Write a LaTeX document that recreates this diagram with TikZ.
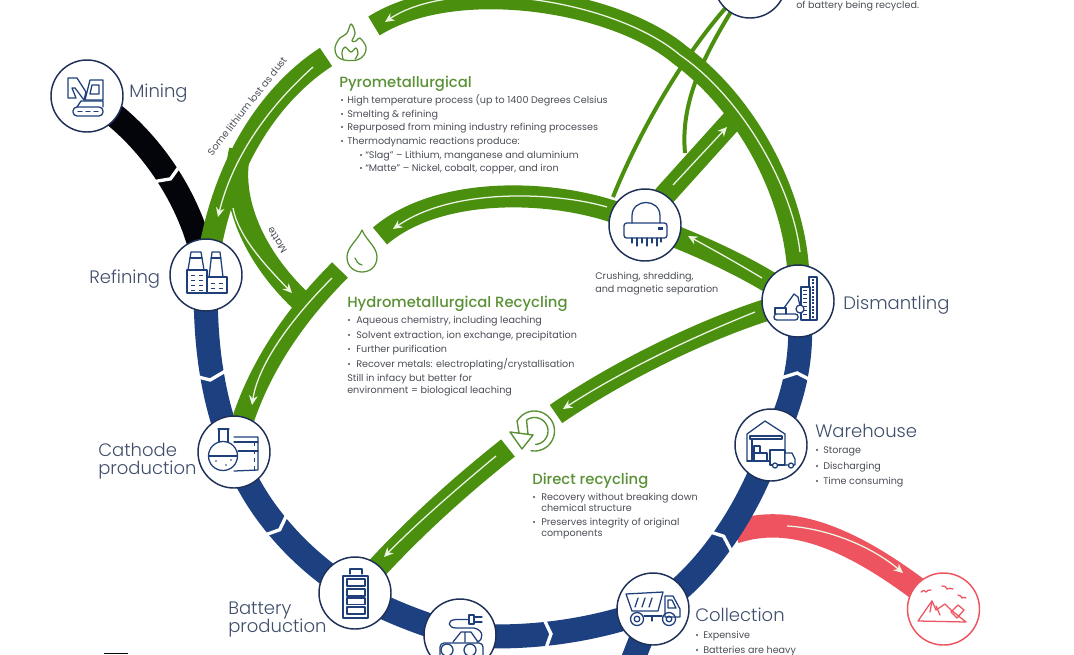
\documentclass[tikz,border=0pt]{standalone}
\usepackage{fontspec}
\setmainfont{Poppins}[UprightFont=* Light,BoldFont=* Medium]
\newfontfamily\bodyf{Poppins}
\usetikzlibrary{arrows.meta}
\definecolor{gband}{HTML}{4A8F0E}
\definecolor{gtext}{HTML}{5B9136}
\definecolor{bband}{HTML}{1D4180}
\definecolor{navy}{HTML}{1F3058}
\definecolor{ink}{HTML}{1E3F7A}
\definecolor{rband}{HTML}{EE5360}
\definecolor{lbl}{HTML}{3F4E6A}
\definecolor{body}{HTML}{4A4E56}
\definecolor{pale}{HTML}{EDF5E4}
\definecolor{blk}{HTML}{04050A}
\pgfdeclarelayer{bg}\pgfsetlayers{bg,main}
\tikzset{
 stage/.style={circle,draw=navy,fill=white,minimum size=54pt,line width=1.1pt,inner sep=0pt},
 stagered/.style={stage,draw=rband},
 blueband/.style={draw=bband,line width=18pt},
 blackband/.style={draw=blk,line width=18pt},
 greenband/.style={draw=gband,line width=16.5pt},
 thinband/.style={draw=gband,line width=3pt},
 redband/.style={draw=rband,line width=17.5pt},
 flow/.style={draw=pale,line width=0.95pt,-{Stealth[length=7pt,width=6.5pt]}},
 iconl/.style={draw=ink,line width=0.95pt,line join=round,line cap=round},
 iconi/.style={draw=ink,line width=0.6pt},
 icong/.style={draw=gtext,line width=0.95pt,line join=round,line cap=round},
 iconr/.style={draw=rband,line width=0.95pt,line join=round,line cap=round},
 lab/.style={text=lbl,anchor=base west,inner sep=0pt,font=\fontsize{13.5}{16}\selectfont},
 head/.style={text=gtext,anchor=base west,inner sep=0pt,font=\fontsize{11.1}{13}\bfseries\selectfont},
 txt/.style={text=body,anchor=base west,inner sep=0pt,font=\bodyf\fontsize{7.2}{8}\selectfont},
 captxt/.style={text=body,anchor=center,inner sep=0pt,font=\bodyf\fontsize{7.3}{8}\selectfont},
 chevmark/.pic={\draw[white,line width=2.5pt,miter limit=10] (-6,-17) -- (1,0) -- (-6,17);}
}
\newcommand\bl[5]{\fill[body] (#2,#4) circle (1.1);\node[txt] (#1) at (#3,#4+3) {#5};}
\begin{document}
\begin{tikzpicture}[x=0.75pt,y=-0.75pt]
\useasboundingbox (0,0) rectangle (1074,654);
\clip (0,0) rectangle (1074,654);
% stages
\node[stage] (min) at (87,96) {};
\node[stage] (ref) at (206,275) {};
\node[stage] (cat) at (234,452) {};
\node[stage] (bat) at (355,593) {};
\node[stage] (ev) at (460,635) {};
\node[stage] (col) at (653,609) {};
\node[stage] (war) at (771,445) {};
\node[stage] (dis) at (798,301) {};
\node[stage] (shr) at (645,225) {};
\node[stage] (top) at (750,-18) {};
\node[stagered] (lan) at (943.5,609) {};
\coordinate (pyroA) at (374,26);
\coordinate (pyroB) at (326,57);
\coordinate (hydA) at (380,236);
\coordinate (hydB) at (340,270);
\coordinate (dirA) at (556,414);
\coordinate (dirB) at (508,448);
\coordinate (matA) at (240,150);
\coordinate (matB) at (302,302);
\coordinate (tapA) at (613,197);
\coordinate (tapB) at (685,153);
\coordinate (offS) at (735,532);
\coordinate (offB) at (632,662);
\coordinate (junc) at (738,114);
\coordinate (mid) at (680,55);
\begin{pgfonlayer}{bg}
\fill[white] (0,0) rectangle (1074,654);
\draw[redband] (offS) .. controls (800,510) and (870,550) .. (lan.center);
\draw[blackband] (min.center) .. controls (145,130) and (195,200) .. (ref.center);
\draw[blueband] (ref.center) .. controls (204,340) and (212,400) .. (cat.center);
\draw[blueband] (cat.center) .. controls (254,508) and (300,560) .. (bat.center);
\draw[blueband] (bat.center) .. controls (390,612) and (425,625) .. (ev.center);
\draw[blueband] (ev.center) .. controls (525,640) and (590,632) .. (col.center);
\draw[blueband] (col.center) .. controls (703,578) and (748,513) .. (war.center);
\draw[blueband] (war.center) .. controls (795,400) and (805,350) .. (dis.center);
\draw[blueband] (col.center) -- (offB);
\pic[rotate=-58] at (170,178) {chevmark};
\pic[rotate=-82] at (210,379) {chevmark};
\pic[rotate=-48] at (279,529) {chevmark};
\pic[rotate=3] at (550,634) {chevmark};
\pic[rotate=50] at (723,537) {chevmark};
\pic[rotate=85] at (797,374) {chevmark};
\pic[rotate=62] at (636,660) {chevmark};
\draw[thinband] (tapA) .. controls (640,130) and (690,40) .. (top.center);
\draw[thinband] (tapB) .. controls (680,100) and (705,50) .. (top.center);
\draw[greenband] (dis.center) .. controls (805,215) and (755,110) .. (mid) .. controls (615,0) and (455,-25) .. (pyroA);
\draw[greenband] (pyroB) .. controls (275,90) and (220,160) .. (ref.center);
\draw[greenband] (matA) .. controls (228,200) and (255,258) .. (matB);
\draw[greenband] (shr.center) .. controls (580,190) and (445,180) .. (hydA);
\draw[greenband] (hydB) .. controls (290,320) and (250,380) .. (cat.center);
\draw[greenband] (dis.center) .. controls (755,270) and (700,245) .. (shr.center);
\draw[greenband] (shr.center) -- (665,195) -- (junc);
\draw[greenband] (dis.center) .. controls (720,320) and (620,370) .. (dirA);
\draw[greenband] (dirB) .. controls (455,490) and (400,540) .. (bat.center);
% flow lines
\draw[flow] (800,252) .. controls (793,190) and (745,100) .. (mid) .. controls (615,0) and (455,-25) .. (385,22);
\draw[flow] (313,67) .. controls (265,110) and (232,160) .. (218,217);
\draw[flow] (233,208) .. controls (238,235) and (262,262) .. (292,293);
\draw[flow] (607,207) .. controls (560,193) and (455,186) .. (393,229);
\draw[flow] (332,278) .. controls (290,320) and (258,365) .. (252,405);
\draw[flow] (762,278) .. controls (737,263) and (712,249) .. (688,236);
\draw[flow] (673,185) -- (727,127);
\draw[flow] (755,312) .. controls (690,338) and (620,372) .. (563,409);
\draw[flow] (496,456) .. controls (455,490) and (415,525) .. (384,557);
\draw[flow] (787,526) .. controls (825,528) and (870,545) .. (903,573);
\end{pgfonlayer}
% Mining icon
\draw[iconl] (85,100)--(90,80)--(103,80)--(103,100)--cycle;
\draw[iconl] (92,85)--(99,85)--(99,94)--(90,94)--cycle;
\draw[iconl] (68,98)--(68,78)--(77,78)--(86,92)--(84,100)--(75,88)--(72,88)--(76,98)--cycle;
\draw[iconl,rounded corners=3] (73,107) rectangle (103,116);
\draw[iconl] (77,107)--(81,101)--(103,101)--(103,107);
\draw[iconl,dashed] (78,111.5)--(99,111.5);
% Refining icon
\draw[iconl] (188,270)--(191,252)--(201,252)--(204,270);
\draw[iconl] (190,258)--(202,258);
\draw[iconl] (209,277)--(212,252)--(220,252)--(223,277);
\draw[iconl] (211,258)--(221,258);
\draw[iconl] (187,293)--(187,270)--(207,270)--(207,277)--(227,277)--(227,293)--cycle;
\draw[iconl] (207,277)--(207,293);
\draw[iconi,dashed] (191,275)--(204,275) (191,280)--(204,280) (191,285)--(204,285) (191,290)--(204,290) (211,283)--(224,283) (211,288)--(224,288);
% Cathode icon
\draw[iconl] (218,429)--(229,429) (219,429)--(219,442) (228,429)--(228,442);
\draw[iconl] (223,456) circle (14.5);
\draw[iconl] (209,456)--(237,456);
\draw[iconl] (234,437)--(258,437)--(258,470)--(234,471);
\draw[iconl] (238,451)--(258,451) (234,442)--(258,442);
\draw[iconi,dashed] (254,442)--(254,470);
\fill[ink] (216,461) circle (0.8) (226,465) circle (0.8) (231,460) circle (0.8);
% Battery icon
\draw[iconl] (343,576) rectangle (368,618);
\draw[iconl] (350,574)--(350,569)--(362,569)--(362,574);
\draw[iconl] (347,579) rectangle (365,586) (347,589) rectangle (365,596) (347,598) rectangle (365,604.5) (347,607) rectangle (365,614);
% EV icon
\draw[iconl] (469,615) rectangle (474,624);
\draw[iconl] (474,617)--(482,617) (474,622)--(482,622);
\draw[iconl] (469,619.5)--(456,619.5) .. controls (446,620) and (448,628) .. (456,628) -- (474,628) .. controls (484,630) and (484,640) .. (477,642);
\draw[iconl] (453,642)--(461,632)--(471,632)--(478,642) (465,632)--(465,642);
\draw[iconl,rounded corners=3] (440,656)--(440,643)--(483,643)--(483,656);
\draw[iconl] (447,650) circle (6) (470,650) circle (6);
% Collection icon
\draw[iconl] (626,594)--(663,592)--(658,611)--(632,611)--cycle;
\draw[iconl] (638,598)--(635,607) (645,598)--(642,607) (652,598)--(649,607);
\draw[iconl] (665,596)--(673,596)--(680,609)--(680,617)--(665,617)--cycle;
\draw[iconl] (668,600)--(672,600)--(676,608)--(668,608)--cycle;
\draw[iconl] (637,619) circle (6.5) (637,619) circle (2.8) (669,619) circle (6.5) (669,619) circle (2.8);
\draw[iconl] (644,616)--(662,616) (652,616)--(652,621);
% Warehouse icon
\draw[iconl] (747,461)--(747,434)--(765,421)--(785,434)--(785,449);
\draw[iconl] (750,436) rectangle (782,439);
\draw[iconl] (752,439)--(752,461) (747,461)--(770,461);
\draw[iconl] (754,446) rectangle (760,453) (754,453) rectangle (767,461);
\draw[iconl,fill=white] (770,450) rectangle (785,465);
\draw[iconl,fill=white] (785,453)--(792,453)--(795,459)--(795,465)--(785,465)--cycle;
\draw[iconl,fill=white] (775,465.5) circle (2.5) (791,465.5) circle (2.5);
% Dismantling icon
\draw[iconl] (809,277) rectangle (817,320);
\draw[iconl,fill=white] (801,287) rectangle (810,320);
\draw[iconi,dashed] (803,290)--(808,290) (803,294)--(808,294) (803,298)--(808,298) (803,302)--(808,302) (803,306)--(808,306) (803,310)--(808,310) (803,314)--(808,314);
\draw[ink,line width=2pt,dash pattern=on 1.5pt off 1pt] (813,279)--(813,318);
\draw[iconl,rounded corners=2] (774,314) rectangle (798,320);
\draw[iconl] (775,314)--(775,308)--(786,308)--(786,314);
\draw[iconl] (784,308)--(794,294)--(798,297)--(800,306);
\draw[iconl,fill=white] (800,309) circle (4);
% Shredder icon
\draw[iconl] (632,223)--(632,216) .. controls (632,198) and (660,198) .. (660,216) -- (660,223);
\draw[iconl,rounded corners=2] (624,223) rectangle (667,238);
\fill[ink] (658,226.5) rectangle (663,229.5);
\draw[iconl] (632,238)--(632,243) (637,238)--(637,246) (642,238)--(642,243) (647,238)--(647,246) (652,238)--(652,243) (657,238)--(657,246) (661,238)--(661,242);
% Landfill icon
\draw[iconr] (918,621)--(927,608)--(932,601)--(936,610)--(945,604)--(951,610)--(966,622)--cycle;
\draw[iconr] (932,601)--(930,612) (936,606)--(940,615);
\draw[iconr] (958,605)--(964,610)--(957,618)--(951,612)--cycle;
\draw[iconr] (921,592) .. controls (924,590) .. (926,592) .. controls (928,590) .. (931,590);
\draw[iconr] (942,586) .. controls (945,586) .. (947,589) .. controls (950,588) .. (953,589);
\draw[iconr] (958,595) .. controls (961,596) .. (962,598) .. controls (964,597) .. (966,598);
% Flame
\draw[icong] plot[smooth cycle,tension=0.6] coordinates {(344,60) (337,56) (335,48) (339,39) (347,33) (351,24) (355,33) (352,41) (356,41) (360,38) (366,47) (364,55) (357,60)};
\draw[icong] plot[smooth,tension=0.6] coordinates {(343,59) (342,52) (345,47) (351,52) (356,48) (358,54) (355,59)};
% Droplet
\draw[icong] (362,230) .. controls (358,240) and (347,247) .. (347,257) .. controls (347,277) and (377,277) .. (377,257) .. controls (377,247) and (366,240) .. (362,230) -- cycle;
\draw[icong] (355,258) .. controls (356,261) and (358,264) .. (362,265);
% Recycling
\draw[icong,line width=1.05pt] plot[domain=150:-100,samples=40] ({534.5+20*cos(\x)},{431-20*sin(\x)});
\draw[icong,line width=1.05pt] plot[domain=125:-85,samples=40] ({534.5+13.5*cos(\x)},{431-13.5*sin(\x)});
\draw[icong,line width=1.05pt] (517,421)--(519,433) (526.5,420)--(528,434) (510,432)--(533,435)--(522,449)--cycle;
% Labels
\node[lab] (lMin) at (129,97) {Mining};
\node[lab] (lRef) at (89,283) {Refining};
\node[lab] (lCat) at (98,456) {Cathode};
\node[lab] (lCat2) at (98,474) {production};
\node[lab] (lBat) at (228,614) {Battery};
\node[lab] (lBat2) at (228,632) {production};
\node[lab] (lDis) at (843,309) {Dismantling};
\node[lab] (lWar) at (815,437) {Warehouse};
\node[lab] (lCol) at (695,621) {Collection};
\node[head] (hPyr) at (339,87) {Pyrometallurgical};
\node[head] (hHyd) at (347,307) {Hydrometallurgical Recycling};
\node[head] (hDir) at (532,484) {Direct recycling};
\bl{p1}{342}{347}{100}{High temperature process (up to 1400 Degrees Celsius}
\bl{p2}{342}{347}{114}{Smelting \& refining}
\bl{p3}{342}{347}{127}{Repurposed from mining industry refining processes}
\bl{p4}{342}{347}{141}{Thermodynamic reactions produce:}
\bl{p5}{361}{365}{155}{“Slag” – Lithium, manganese and aluminium}
\bl{p6}{361}{365}{168}{“Matte” – Nickel, cobalt, copper, and iron}
\bl{h1}{349}{356}{320}{Aqueous chemistry, including leaching}
\bl{h2}{349}{356}{335}{Solvent extraction, ion exchange, precipitation}
\bl{h3}{349}{356}{349}{Further purification}
\bl{h4}{349}{356}{364}{Recover metals: electroplating/crystallisation}
\node[txt] (h5) at (347,381) {Still in infacy but better for};
\node[txt] (h6) at (347,393) {environment = biological leaching};
\bl{d1}{534}{541}{497}{Recovery without breaking down}
\node[txt] (d2) at (541,511) {chemical structure};
\bl{d3}{534}{541}{522}{Preserves integrity of original}
\node[txt] (d4) at (541,536) {components};
\bl{w1}{817}{823}{450}{Storage}
\bl{w2}{817}{823}{466}{Discharging}
\bl{w3}{817}{823}{481}{Time consuming}
\bl{c1}{697}{703}{635}{Expensive}
\bl{c2}{697}{703}{650}{Batteries are heavy}
\node[txt] (s1) at (595,279) {Crushing, shredding,};
\node[txt] (s2) at (595,292) {and magnetic separation};
\node[txt] (t1) at (796,8) {of battery being recycled.};
\node[captxt,rotate=52] (dust) at (247,106) {Some lithium lost as dust};
\node[captxt,rotate=122] (matte) at (277,240) {Matte};
\fill[blk] (104,652.5) rectangle (128,654);
\end{tikzpicture}
\end{document}
